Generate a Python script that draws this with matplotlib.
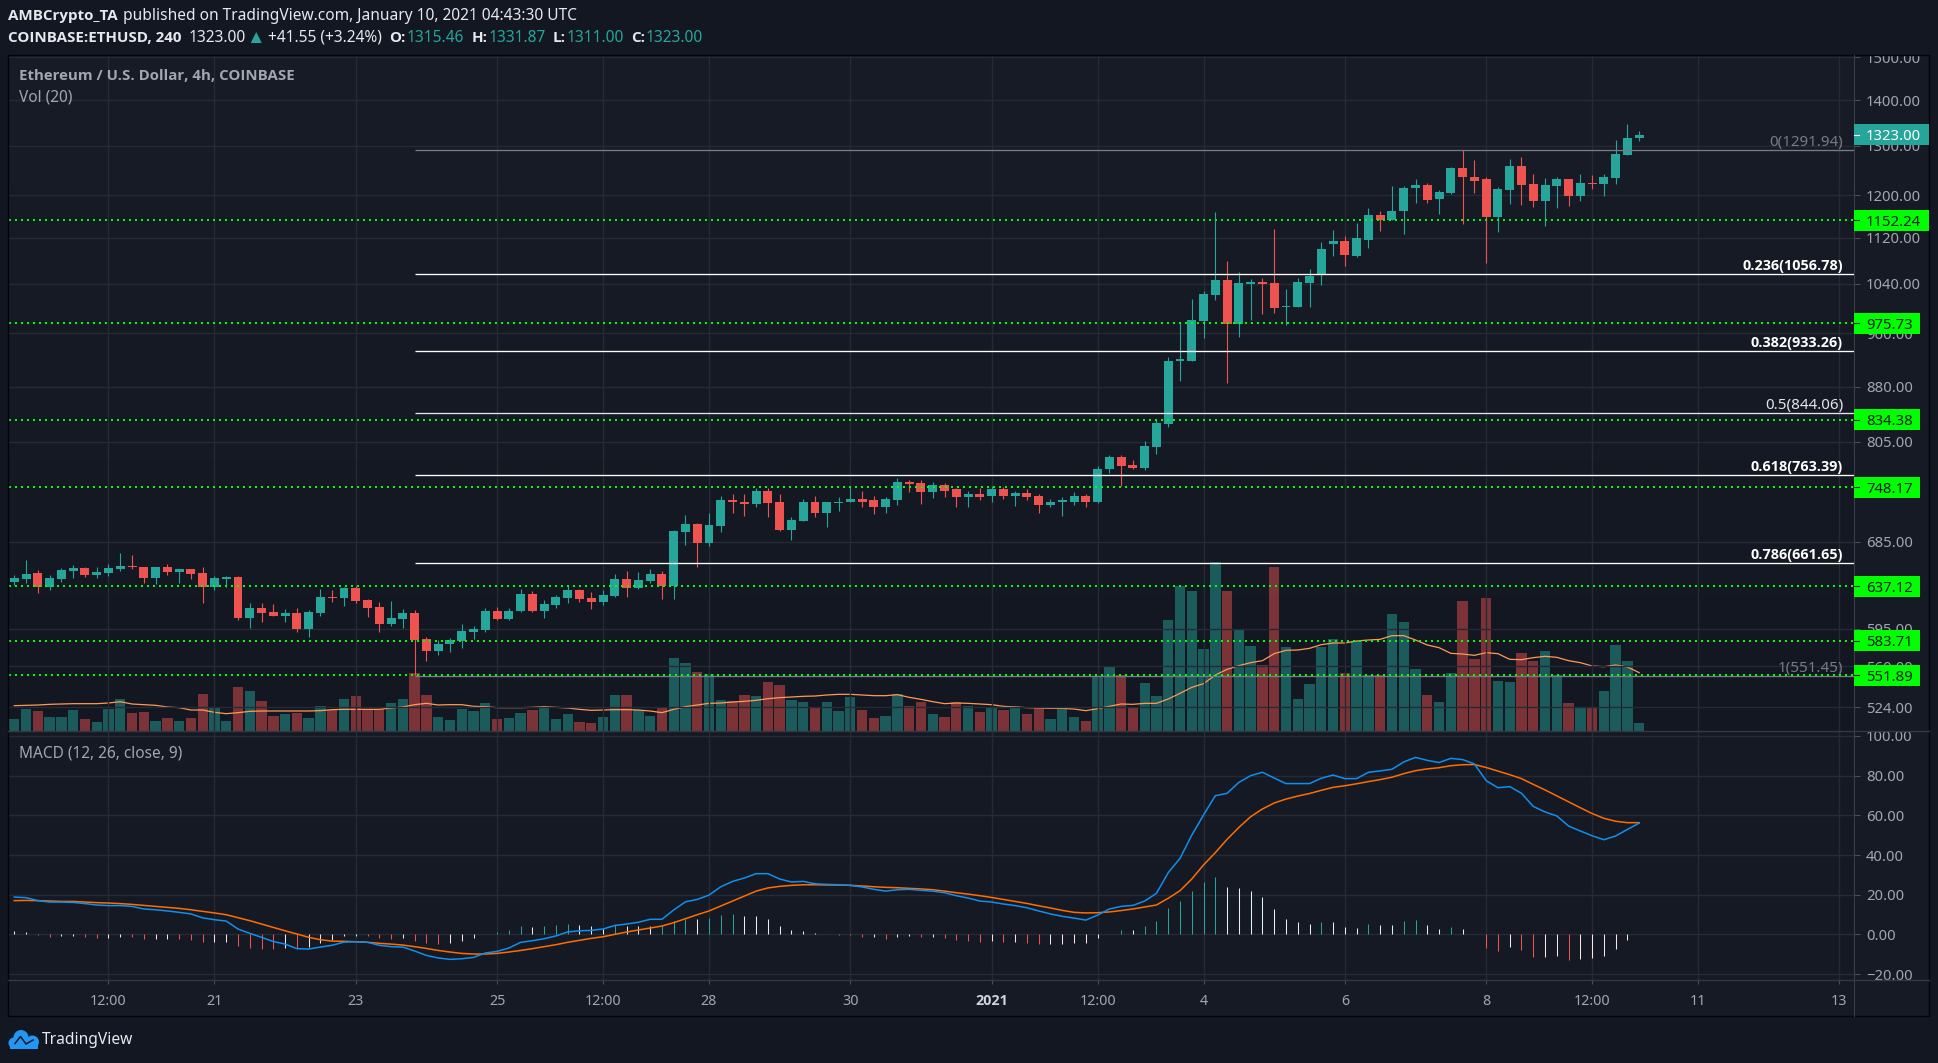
import numpy as np
import matplotlib
matplotlib.use('Agg')
import matplotlib.pyplot as plt
from matplotlib.patches import Rectangle, Circle, Polygon
from matplotlib.ticker import NullLocator
from matplotlib.transforms import Bbox

plt.rcParams['font.family'] = ['Noto Sans', 'DejaVu Sans']
BOLD = ['Open Sans', 'DejaVu Sans']

W, H = 1938, 1063

# 4h candles
opens = [642,645,651,637,645,653,656,649,651,655,
         659,658,646,657,652,655,651,637,645,647,
         605,615,611,607,610,595,610,626,625,636,
         623,616,600,604,610,585,574,580,583,592,
         594,612,604,612,629,612,618,625,633,625,
         621,627,645,636,643,650,638,696,705,684,
         703,733,731,728,743,730,698,708,730,717,
         729,730,734,733,724,733,754,753,742,751,
         746,736,740,737,746,738,741,738,727,730,
         731,738,730,770,786,775,772,799,829,917,
         918,979,1021,1046,975,1039,1043,1041,1001,1001,
         1041,1054,1109,1114,1088,1117,1162,1153,1169,1214,
         1221,1192,1204,1254,1236,1231,1158,1210,1258,1223,
         1188,1219,1231,1199,1225,1223,1233,1281,1315.46]
highs = [649,665,654,649,656,660,658,657,661,672,
         670,658,657,661,655,655,658,648,648,648,
         620,620,619,614,615,613,634,633,637,638,
         624,621,622,614,613,587,584,586,600,598,
         615,616,615,634,632,623,628,638,634,631,
         633,650,653,652,655,653,698,715,706,718,
         738,740,740,747,747,740,713,734,738,731,
         736,748,743,737,736,759,757,757,755,753,
         747,743,747,749,748,743,746,740,734,736,
         742,740,774,788,788,782,806,834,923,976,
         1014,1027,1167,1079,1059,1048,1049,1136,1031,1049,
         1065,1112,1134,1124,1148,1176,1169,1219,1219,1231,
         1225,1210,1256,1291,1270,1236,1217,1272,1277,1243,
         1233,1236,1231,1242,1240,1242,1312,1347,1331.87]
lows = [639,641,630,633,642,646,647,646,648,653,
        655,641,640,649,641,645,620,633,637,603,
        596,601,607,601,592,587,607,621,617,620,
        606,592,598,596,552,565,570,573,577,585,
        592,603,603,611,611,605,615,620,621,614,
        618,626,626,634,641,624,624,681,658,680,
        696,718,714,724,713,697,687,708,713,702,
        720,730,724,716,718,727,742,728,735,736,
        724,725,733,730,734,726,733,717,724,714,
        727,725,729,765,750,770,769,790,825,888,
        917,952,1013,885,954,980,990,992,973,1001,
        1001,1038,1088,1071,1086,1102,1132,1153,1127,1186,
        1186,1165,1203,1146,1204,1076,1131,1183,1181,1177,
        1142,1176,1179,1188,1212,1199,1223,1281,1311]
closes = [646,650,637,646,654,656,649,652,656,659,
          658,646,657,652,655,650,637,646,647,605,
          615,610,607,610,595,611,626,625,636,622,
          615,600,605,610,584,574,580,584,593,595,
          612,604,612,629,612,619,626,633,624,621,
          628,645,636,644,650,638,697,705,684,704,
          733,730,728,743,729,698,709,730,717,730,
          731,734,731,724,734,754,752,742,751,744,
          736,740,736,746,738,741,736,727,731,733,
          738,730,771,786,774,772,800,830,918,920,
          980,1022,1046,975,1041,1043,1039,1000,1003,1043,
          1053,1100,1114,1090,1119,1163,1153,1169,1215,1221,
          1190,1206,1254,1235,1229,1158,1212,1258,1221,1188,
          1221,1231,1199,1225,1223,1235,1283,1316,1323]

volume = [36,66,60,42,42,63,36,27,66,96,54,57,30,39,30,39,111,69,30,132,
          120,90,45,51,54,39,75,63,96,105,66,66,84,96,174,108,42,33,66,60,
          84,36,39,54,63,72,36,51,27,24,42,108,108,63,45,72,219,204,177,171,
          93,90,108,105,147,138,93,87,69,87,60,102,63,39,45,111,75,87,51,42,
          88,76,58,73,64,76,50,73,37,70,43,31,166,193,
          168,69,144,105,333,435,420,246,507,420,306,255,198,492,252,
          96,141,252,276,174,270,168,168,351,327,186,108,87,174,390,
          216,399,150,147,234,210,240,168,84,69,72,120,258,210,24]
volume_ma = [76,77,78,80,81,82,82,82,84,88,81,79,77,72,70,63,63,56,52,55,
             59,60,60,60,60,60,61,64,65,65,65,65,69,72,79,83,78,79,79,74,
             73,70,70,70,71,73,71,69,65,62,63,64,64,63,60,55,65,73,78,83,
             84,87,89,92,97,100,102,104,105,108,110,110,108,106,106,109,101,95,88,82,
             84,83,81,79,74,72,70,69,68,68,66,61,67,74,81,80,83,83,96,113,
             131,142,168,185,196,205,211,232,242,243,248,259,
             264,264,270,273,275,286,286,273,258,250,233,231,227,235,232,215,214,
             220,224,221,211,205,195,193,198,192,175]

macd = [18.8,18.5,17.0,16.3,16.3,16.1,15.5,14.8,14.5,14.5,
        14.1,12.8,12.4,11.8,11.1,10.3,8.3,7.4,6.7,2.7,
        0.5,-1.5,-3.6,-4.9,-7.2,-7.4,-6.4,-5.5,-3.9,-3.7,
        -4.0,-5.5,-6.2,-6.4,-8.4,-10.6,-11.9,-12.6,-12.3,-11.6,
        -9.4,-8.6,-6.9,-4.0,-3.2,-2.2,-0.8,1.2,1.8,2.0,
        2.7,4.5,5.2,6.1,7.6,7.6,12.3,16.4,17.6,19.8,
        24,26.7,28.4,30.6,30.6,27.9,26.4,
        26.7,25.5,25.2,25,24.7,23.9,22.7,21.8,22.5,22.7,
        22.2,21.8,21,19.5,18.3,16.8,16.3,15.3,14.5,13.4,
        11.8,10.3,9.1,8.2,7.2,9.7,12.8,14.1,14.6,16.8,
        20.7,31.1,38.3,50,60.2,69.9,71.1,76.6,80,81.7,
        78.8,76,76,76,78.7,80.3,78.5,78.5,81.7,82.4,
        83.2,86.9,89.2,87.7,86.6,88.7,88.1,85.9,77.5,73.9,
        74.5,71.1,64.5,61.7,59.7,54.6,52.1,49.7,47.7,49.6,52.9,56.1]
signal = [17.0,17.1,17.0,16.8,16.6,16.6,16.3,16.0,15.8,15.5,
          15.1,14.6,14.1,13.6,13.1,12.4,11.6,10.8,9.9,8.4,
          6.9,5.2,3.5,1.8,0.2,-1.5,-2.7,-3.4,-3.5,-3.7,
          -4.0,-4.5,-4.9,-5.4,-6.2,-7.1,-8.1,-8.9,-9.6,-9.9,
          -9.9,-9.6,-8.9,-8.1,-7.2,-6.2,-5.2,-4.0,-3.0,-2.0,
          -1.2,0,1.2,2.2,3.2,4.2,5.9,7.9,9.9,11.8,
          14.3,16.8,19.3,21.8,23.4,24.2,24.7,
          25.0,25.0,24.9,24.9,24.7,24.4,24.0,23.7,23.5,23.2,
          22.9,22.5,21.8,21.0,20.3,19.5,18.6,17.6,16.6,15.6,
          14.4,13.3,12.1,11.1,10.8,10.9,11.3,12.0,12.8,13.8,
          14.8,18.2,22,27.9,35,41.2,47.9,53.9,59.3,63.2,
          66.2,68.2,69.7,71,72.6,74.1,74.9,75.9,77,78,
          79.2,81,82.5,83.4,84,85,85.5,85.6,84.1,82.3,
          80.5,78.5,75.6,72.8,69.8,66.8,63.8,60.9,58.5,57,56.3,56.3]
hist = [1.7,1.0,-.3,-1.3,-.7,-.7,-1.3,-1.8,-1.8,-1.2,
        -1.3,-2.4,-2.4,-2.4,-2.5,-2.9,-3.9,-3.9,-3.9,-6,
        -6.9,-7.2,-7.4,-6.9,-7,-6.4,-4.2,-2.9,-.7,-.7,
        -1,-1.8,-2.4,-1.8,-3.4,-4.4,-4.7,-4.2,-3.2,-1.8,
        .2,1.2,2.2,4.2,3.7,4.2,4.7,5.2,4.5,4.2,
        2.9,4.5,4.4,4.2,4,4.7,6.6,7.9,7.9,8.2,
        9.7,10.3,9.2,9.2,7.7,4.2,2.2,
        1.7,.7,.3,-.2,-.3,-1.3,-1.3,-2.4,-1.3,-.7,
        -1.3,-1.3,-1.8,-2.9,-3.4,-3.9,-3.4,-3.9,-3.9,-4.4,
        -4.9,-4.9,-4.9,-4.4,-4.4,-2,.2,2.2,2.2,4.2,
        6.7,13.3,16.8,21.8,26.4,28.9,23.9,23.4,21.8,18.8,
        12.8,7.7,6.2,5.2,6.2,6.2,3.7,3.2,5.2,4.7,
        4.7,6.7,7.2,4.7,2.7,3.7,2.7,.2,-6.9,-8.4,
        -6.4,-7.9,-11.4,-11.4,-10.9,-12.9,-12.4,-11.9,-10.9,-7.4,-2.9,.2]

# levels
fib_levels = [1291.94, 1056.78, 933.26, 844.06, 763.39, 661.65, 551.45]
fib_ratios = ['0', '0.236', '0.382', '0.5', '0.618', '0.786', '1']
fib_colors = ['#787b86', '#ffffff', '#ffffff', '#e3e5ea', '#ffffff', '#ffffff', '#787b86']
fib_start = 34
support = [1152.24, 975.73, 834.38, 748.17, 637.12, 583.71, 551.89]
last_price = 1323.00

price_ticks = [1500, 1400, 1300, 1200, 1120, 1040, 960, 880, 805, 685, 595, 560, 524]
macd_ticks = [100, 80, 60, 40, 20, 0, -20]
time_ticks = [8, 17, 29, 41, 50, 59, 71, 83, 92, 101, 113, 125, 134, 143, 155]
time_labels = ['12:00', '21', '23', '25', '12:00', '28', '30', '2021', '12:00', '4', '6', '8', '12:00', '11', '13']

UP, DOWN = '#26a69a', '#ef5350'
GRID = '#262a35'
AXTXT = '#a3a6af'

fig = plt.figure(figsize=(W / 100, H / 100), dpi=100, facecolor='#131722')


def px_rect(l, t, r, b):
    return [l / W, (H - b) / H, (r - l) / W, (b - t) / H]


def px_axes(z):
    a = fig.add_axes([0, 0, 1, 1], zorder=z)
    a.set_xlim(0, W)
    a.set_ylim(H, 0)
    a.axis('off')
    return a


bg = px_axes(0)
bg.add_patch(Rectangle((8, 55), 1921, 961, fc='#161a25', ec='none'))

ax_vol = fig.add_axes(px_rect(9, 55, 1854, 731), zorder=1)
ax = fig.add_axes(px_rect(9, 55, 1854, 731), zorder=2, sharex=ax_vol)
ax_m = fig.add_axes(px_rect(9, 731, 1854, 980), zorder=2, sharex=ax_vol, facecolor='#151924')
ov = px_axes(5)

x = np.arange(len(closes))
o, h, l, c = map(np.array, (opens, highs, lows, closes))
up = c >= o
colors = np.where(up, UP, DOWN)

# pane gradient and volume under the candles
grad = np.linspace([24, 28, 39], [19, 23, 34], 256).reshape(256, 1, 3) / 255
ax_vol.imshow(grad, extent=(0, 1, 0, 1), transform=ax_vol.transAxes, aspect='auto', zorder=0)
ax_vol.bar(x, volume, width=0.88, color=colors, alpha=0.48, linewidth=0, zorder=2)
ax_vol.plot(x, volume_ma, color='#ff9a56', lw=0.9, zorder=3)
ax_vol.set_ylim(0, 2028)
ax_vol.axis('off')

ax.patch.set_visible(False)
ax.set_yscale('log')
ax.set_ylim(504.2, 1505.8)
ax.vlines(x, l, h, colors=colors, lw=0.8, zorder=3)
ax.bar(x, np.abs(c - o), bottom=np.minimum(o, c), width=0.76, color=colors, linewidth=0, zorder=4)

ax.hlines(fib_levels, fib_start, 156.24, colors=fib_colors, lw=0.95, zorder=5)
for lev, ratio, col in zip(fib_levels, fib_ratios, fib_colors):
    bold = col == '#ffffff'
    ax.annotate('%s(%.2f)' % (ratio, lev), xy=(1, lev), xycoords=('axes fraction', 'data'),
                xytext=(-11, 4), textcoords='offset pixels', ha='right', va='baseline',
                color=col, fontsize=10.4 if bold else 10.9,
                family=BOLD if bold else None, fontweight='bold' if bold else 'normal', zorder=6)
ax.hlines(support, -0.45, 156.24, colors='#00ff00', lw=1.44, linestyles=[(0, (1, 2))], zorder=7)

ax.set_yticks(price_ticks)
ax.set_yticklabels(['%.2f' % p for p in price_ticks])
ax.yaxis.set_minor_locator(NullLocator())
ax.yaxis.set_minor_formatter(plt.NullFormatter())
ax.yaxis.tick_right()

# MACD pane
ax_m.set_ylim(-23, 102.5)
hist_arr = np.array(hist)
prev = np.r_[hist_arr[0] + 0.1, hist_arr[:-1]]
hist_cols = ['#26a69a' if v >= 0 and v > p else '#e0f2f1' if v >= 0 else
             '#ef5350' if v < p else '#ffe4e6' for v, p in zip(hist_arr, prev)]
ax_m.vlines(x, 0, hist_arr, colors=hist_cols, lw=0.75, zorder=3)
ax_m.plot(x, signal, color='#ff6d00', lw=1.1, zorder=4)
ax_m.plot(x, macd, color='#0f8fee', lw=1.1, zorder=5)
ax_m.set_yticks(macd_ticks)
ax_m.set_yticklabels(['%.2f' % v if v >= 0 else '\u2212%.2f' % -v for v in macd_ticks])
ax_m.yaxis.tick_right()

ax_m.set_xticks(time_ticks)
ax_m.set_xticklabels(time_labels)
ax_m.set_xlim(-0.45, 156.24)
ax.tick_params(axis='x', which='both', labelbottom=False, length=0)

for a in (ax, ax_m):
    a.grid(True, color=GRID, lw=1.0, zorder=1)
    a.set_axisbelow(True)
    a.tick_params(axis='y', length=4.3, width=0.8, color='#4a4e59', labelcolor=AXTXT,
                  labelsize=10.7, pad=4.3)
    for s in a.spines.values():
        s.set_visible(False)
ax_m.tick_params(axis='x', length=3, width=0.8, color='#4a4e59', labelcolor=AXTXT,
                 labelsize=10.3, pad=7)
lab_2021 = ax_m.get_xticklabels()[time_labels.index('2021')]
lab_2021.set_fontweight('bold')
lab_2021.set_family(BOLD)
lab_2021.set_color('#d1d4dc')

# clip axis labels at the pane edges
for a, top, bot in ((ax, 55, 731), (ax_m, 731, 980)):
    box = Bbox([[1855, H - bot], [1929, H - top]])
    for t in a.get_yticklabels():
        t.set_clip_box(box)
        t.set_clip_on(True)

# frame
ov.plot([1854, 1854], [55, 1016], color='#3a3e49', lw=0.8)
ov.plot([8, 1929], [731, 731], color='#343842', lw=1.0)
ov.plot([8, 1929], [980, 980], color='#343842', lw=1.0)
ov.add_patch(Rectangle((8, 55), 1921, 961, fc='none', ec='#02040a', lw=1.0))


def price_y(v):
    return ov.transData.inverted().transform(ax.transData.transform((0, v)))[1]


def tag(v, fc, tc, right, tick):
    y = price_y(v)
    ov.add_patch(Rectangle((1854, y - 10.5), right - 1854, 21, fc=fc, ec='none', zorder=6))
    ov.plot([1854, 1859], [y, y], color=tick, lw=0.8, zorder=7)
    ov.text(1866, y, '%.2f' % v, color=tc, fontsize=10.7, va='center_baseline', ha='left', zorder=8)


for v in support:
    tag(v, '#00ff00', '#0b1a10', 1929 if v >= 1000 else 1920, '#0b1a10')
tag(last_price, UP, '#ffffff', 1929, '#ffffff')

# pane titles
ov.text(19, 76, 'Ethereum / U.S. Dollar, 4h, COINBASE', color='#a3a6af', fontsize=10.8,
        family=BOLD, fontweight='bold', va='center')
ov.text(19, 97, 'Vol (20)', color='#a3a6af', fontsize=11.1, va='center')
ov.text(19, 753, 'MACD (12, 26, close, 9)', color='#a3a6af', fontsize=11.1, va='center')

# header
renderer = fig.canvas.get_renderer()


def run(x0, y, s, color='#e6e8ee', weight='normal', gap=4):
    fam = BOLD if weight == 'bold' else None
    t = ov.text(x0, y, s, color=color, fontsize=10.9 if weight == 'bold' else 11.15,
                fontweight=weight, family=fam, va='center')
    return x0 + t.get_window_extent(renderer).width + gap


px = run(8, 16, 'AMBCrypto_TA', weight='bold', gap=5)
run(px, 16, 'published on TradingView.com, January 10, 2021 04:43:30 UTC')
px = run(8, 38, 'COINBASE:ETHUSD, 240', weight='bold', gap=7)
px = run(px, 38, '1323.00', gap=5)
ov.add_patch(Polygon([[px, 43], [px + 11, 43], [px + 5.5, 32]], fc=UP, ec='none'))
px = run(px + 17, 38, '+41.55 (+3.24%)', gap=8)
for name, val in (('O:', '1315.46'), ('H:', '1331.87'), ('L:', '1311.00'), ('C:', '1323.00')):
    px = run(px, 38, name, weight='bold', gap=1)
    px = run(px, 38, val, color=UP, gap=7)

# logo
blue = '#2196f3'
for cx, cy, r in ((14, 1043, 5.5), (21, 1037.5, 7.5), (32.5, 1042, 6.5)):
    ov.add_patch(Circle((cx, cy), r, fc=blue, ec='none'))
ov.add_patch(Rectangle((10, 1042), 28, 6.5, fc=blue, ec='none'))
ov.plot([15, 20.5, 26, 33], [1043.5, 1036.5, 1044, 1040], color='#131722', lw=1.1)
ov.text(42, 1040, 'TradingView', color='#e6e8ee', fontsize=11.2, va='center')

fig.savefig('out.png', dpi=100, facecolor=fig.get_facecolor())
